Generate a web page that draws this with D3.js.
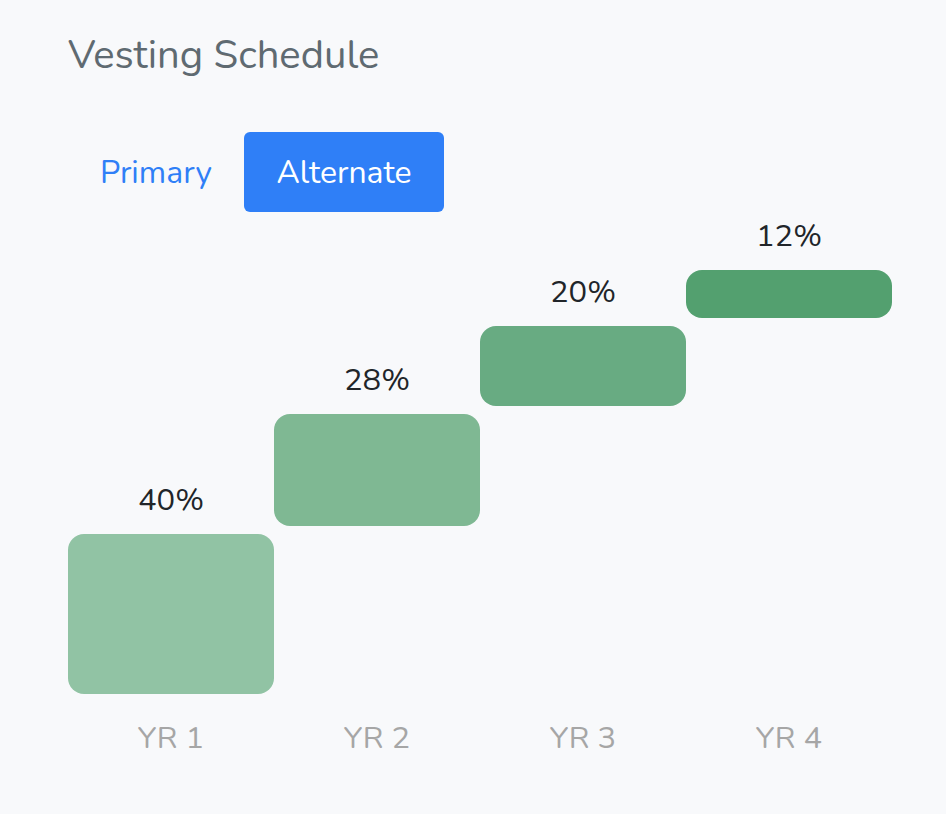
<!DOCTYPE html>
<html>
<head>
<meta charset="utf-8">
<script src="https://cdn.jsdelivr.net/npm/d3@7"></script>
<style>
  html, body { margin: 0; padding: 0; background: #f8f9fb; }
  svg { display: block; font-family: Nunito, "Open Sans", sans-serif; }
</style>
</head>
<body>
<svg id="chart" width="946" height="814"></svg>
<script>
// vesting schedule data
var years = ["YR 1", "YR 2", "YR 3", "YR 4"];
var percents = [40, 28, 20, 12];
var barColors = ["#91c3a4", "#7fb893", "#68ab82", "#53a06f"];
var tabs = ["Primary", "Alternate"];

var svg = d3.select("#chart");

svg.append("rect")
    .attr("width", 946).attr("height", 814)
    .attr("fill", "#f8f9fb");

// title
svg.append("text")
    .attr("x", 68).attr("y", 68)
    .attr("font-size", 40)
    .attr("fill", "#5f6a71")
    .text("Vesting Schedule");

// tab buttons
svg.append("rect")
    .attr("x", 244).attr("y", 132)
    .attr("width", 200).attr("height", 80)
    .attr("rx", 6)
    .attr("fill", "#2f7ff7");

svg.append("text")
    .attr("x", 156).attr("y", 183)
    .attr("text-anchor", "middle")
    .attr("font-size", 32)
    .attr("fill", "#2f7ff7")
    .text(tabs[0]);

svg.append("text")
    .attr("x", 344).attr("y", 183)
    .attr("text-anchor", "middle")
    .attr("font-size", 32)
    .attr("fill", "#ffffff")
    .text(tabs[1]);

// scales
var x = d3.scaleBand()
    .domain(years)
    .range([68, 892])
    .padding(0);

var y = d3.scaleLinear()
    .domain([0, 100])
    .range([694, 294]);

var gap = 8;
var cum = d3.cumsum(percents);

var bars = years.map(function(yr, i)
{
    var start = i === 0 ? 0 : cum[i - 1];
    var bottom = y(start) - gap * i;
    var top = bottom - (y(0) - y(percents[i]));
    return {year: yr, value: percents[i], top: top, bottom: bottom, color: barColors[i]};
});

svg.selectAll("rect.bar")
    .data(bars)
    .enter().append("rect")
    .attr("class", "bar")
    .attr("x", function(d) { return x(d.year); })
    .attr("y", function(d) { return d.top; })
    .attr("width", x.bandwidth())
    .attr("height", function(d) { return d.bottom - d.top; })
    .attr("rx", 16)
    .attr("fill", function(d) { return d.color; });

svg.selectAll("text.val")
    .data(bars)
    .enter().append("text")
    .attr("class", "val")
    .attr("x", function(d) { return x(d.year) + x.bandwidth() / 2; })
    .attr("y", function(d) { return d.top - 24; })
    .attr("text-anchor", "middle")
    .attr("font-size", 31)
    .attr("fill", "#212529")
    .text(function(d) { return d.value + "%"; });

// x axis labels, no line or ticks
var xAxis = d3.axisBottom(x).tickSize(0).tickPadding(0);
var gx = svg.append("g")
    .attr("transform", "translate(0,726)")
    .call(xAxis);
gx.select(".domain").remove();
gx.selectAll("text")
    .attr("dy", 0)
    .attr("y", 22)
    .attr("font-size", 31)
    .attr("fill", "#a6a6a6");
gx.attr("font-family", null).attr("font-size", null);
</script>
</body>
</html>
